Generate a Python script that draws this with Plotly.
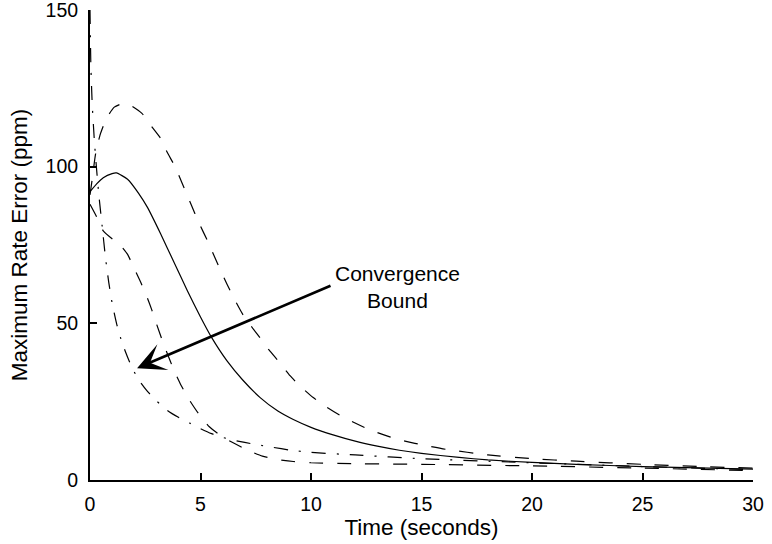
import plotly.graph_objects as go

# ---- data ----
t_solid = [0, 0.3, 0.6, 1.0, 1.2, 1.7, 2.2, 2.6, 3.2, 3.8, 4.4, 5.0, 5.5, 6.2, 6.9, 7.7, 8.5, 9.2, 10, 11, 12, 13, 14, 15, 16.7, 18, 20, 22, 25, 28, 30]
y_solid = [92, 94.5, 96.5, 97.8, 98, 96, 91.5, 87, 78.5, 69.5, 60.5, 52, 45.5, 38, 32, 26.3, 22, 19.3, 16.8, 14.4, 12.4, 10.8, 9.5, 8.5, 7.2, 6.4, 5.6, 5.0, 4.3, 3.8, 3.5]

t_upper = [0, 0.1, 0.25, 0.45, 0.75, 1.1, 1.5, 1.8, 2.35, 2.8, 3.2, 3.5, 3.85, 4.15, 4.45, 4.75, 5.0, 5.3, 5.6, 5.9, 6.2, 6.55, 6.9, 7.3, 7.7, 8.1, 8.6, 9.05, 9.5, 10.1, 10.7, 11.3, 11.9, 12.6, 13.3, 13.9, 14.7, 15.4, 16.1, 18, 20, 22, 25, 28, 30]
y_upper = [91, 96, 104, 110, 115.5, 119, 120.2, 119.7, 117, 112.7, 109, 104.5, 100, 95, 90, 85, 81, 76.6, 71.8, 67, 62.5, 57.5, 53, 49, 45.3, 41.5, 37.3, 33.3, 30, 26.3, 23.3, 20.7, 18.5, 16.2, 14.4, 13, 11.7, 10.7, 9.8, 8.0, 6.8, 6.0, 5.0, 4.2, 3.8]

t_lower = [0, 0.3, 0.6, 1.0, 1.3, 1.7, 2.0, 2.3, 2.6, 2.8, 3.0, 3.3, 3.5, 3.8, 4.1, 4.5, 4.9, 5.4, 6.0, 6.5, 7.1, 7.8, 8.5, 9.2, 10, 12, 15, 20, 25, 30]
y_lower = [88, 84, 79.5, 77, 75.5, 72, 67.5, 63, 58, 54.2, 50, 44, 40.3, 35, 30.5, 25.5, 21.3, 17, 13.7, 11.8, 9.6, 7.6, 6.5, 5.9, 5.5, 5.2, 5.0, 4.5, 3.8, 3.0]

t_bound = [0, 0.04, 0.1, 0.2, 0.3, 0.4, 0.55, 0.7, 0.85, 1.0, 1.2, 1.4, 1.6, 1.8, 2.0, 2.3, 2.6, 3.0, 3.5, 4.0, 4.5, 5.0, 5.5, 6.0, 6.5, 7.0, 7.6, 8.3, 9.0, 10, 12, 15, 20, 25, 30]
y_bound = [150, 132, 120, 108, 99, 91, 81, 71, 63, 56.5, 50, 45, 41, 37.5, 34.5, 31, 28.3, 25.3, 22.2, 20, 18.2, 16.4, 14.8, 13.6, 12.7, 12.0, 11.2, 10.4, 9.6, 8.8, 8.0, 6.8, 5.5, 4.3, 3.3]

x_ticks = [0, 5, 10, 15, 20, 25, 30]
y_ticks = [0, 50, 100, 150]
x_title = "Time (seconds)"
y_title = "Maximum Rate Error (ppm)"
note_text = "Convergence<br>Bound"
arrow_head = (2.13, 35.7)
arrow_tail = (10.95, 62.2)
note_pos = (13.9, 61.6)

FONT = "Liberation Sans, Arial, Helvetica, sans-serif"

fig = go.Figure()
line_w = 1.2
spl = dict(shape="spline", smoothing=0.5)
fig.add_trace(go.Scatter(x=t_solid, y=y_solid, mode="lines",
                         line=dict(color="black", width=line_w, **spl)))
fig.add_trace(go.Scatter(x=t_upper, y=y_upper, mode="lines",
                         line=dict(color="black", width=line_w, dash="14px,14px", **spl)))
fig.add_trace(go.Scatter(x=t_lower, y=y_lower, mode="lines",
                         line=dict(color="black", width=line_w, dash="14px,14px", **spl)))
fig.add_trace(go.Scatter(x=t_bound, y=y_bound, mode="lines",
                         line=dict(color="black", width=line_w, dash="14px,11px,2px,11px", **spl)))

fig.add_annotation(x=arrow_head[0], y=arrow_head[1], ax=arrow_tail[0], ay=arrow_tail[1],
                   xref="x", yref="y", axref="x", ayref="y", text="", showarrow=True,
                   arrowhead=3, arrowsize=1.8, arrowwidth=2.6, arrowcolor="black", standoff=0)
fig.add_annotation(x=note_pos[0], y=note_pos[1], xref="x", yref="y", text=note_text,
                   showarrow=False, xanchor="center", yanchor="middle",
                   font=dict(family=FONT, size=21, color="black"))

fig.update_layout(
    width=772, height=544,
    margin=dict(l=90, r=19, t=10, b=64),
    paper_bgcolor="white", plot_bgcolor="white",
    showlegend=False,
    font=dict(family=FONT, size=19.5, color="black"),
)
fig.update_xaxes(range=[0, 30], tickvals=x_ticks, ticks="inside", ticklen=7, tickwidth=2,
                 tickcolor="black", showline=True, linecolor="black", linewidth=2,
                 showgrid=False, zeroline=False, mirror=False, automargin=False,
                 tickfont=dict(size=19.5), ticklabeloverflow="allow",
                 title=dict(text=x_title, standoff=3, font=dict(size=22.5)), ticklabelstandoff=6)
fig.update_yaxes(range=[0, 150], tickvals=y_ticks, ticks="inside", ticklen=7, tickwidth=2,
                 tickcolor="black", showline=True, linecolor="black", linewidth=2,
                 showgrid=False, zeroline=False, mirror=False, automargin=False,
                 tickfont=dict(size=19.5), ticklabeloverflow="allow",
                 title=dict(text=y_title, standoff=12, font=dict(size=22.5)), ticklabelstandoff=6)

fig.write_html("out.html")
